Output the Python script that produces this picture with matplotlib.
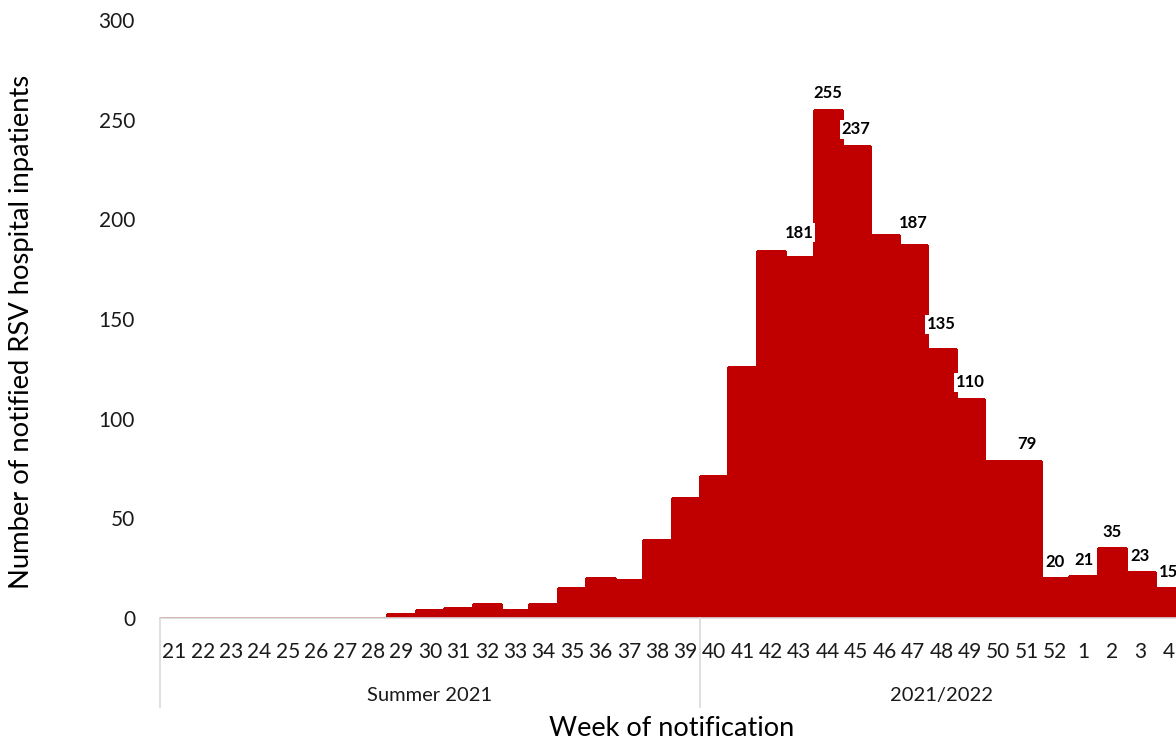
import numpy as np
import matplotlib.pyplot as plt
import matplotlib.transforms as mtransforms

plt.rcParams['font.family'] = ['Lato', 'DejaVu Sans']

# Weekly notified RSV hospital inpatients
weeks = [str(w) for w in range(21, 53)] + ['1', '2', '3', '4']
cases = [0, 0, 0, 0, 0, 0, 0, 0,          # 21-28
         2, 4, 5, 7, 4, 7, 15, 20, 19,    # 29-37
         39, 60, 71, 126, 184, 181, 255,  # 38-44
         237, 192, 187, 135, 110, 79, 79, # 45-51
         20, 21, 35, 23, 15]              # 52, 1-4
# weeks that carry a value label
labelled = ['43', '44', '45', '47', '48', '49', '51', '52', '1', '2', '3', '4']
# a few labels sit a little higher in the original (pt)
label_lift = {'43': 6, '47': 4, '48': 6}

# season grouping below the week ticks
seasons = ['Summer 2021', '2021/2022']
season_first_week = ['21', '40']

bar_color = '#C00000'
grid_grey = '#D9D9D9'
text_col = '#1a1a1a'

fig = plt.figure(figsize=(11.76, 7.42), dpi=100)
ax = fig.add_axes([160/1176, 124/742, 1023/1176, 598/742])

x = np.arange(len(weeks))
# edge in fill colour, no antialiasing: neighbouring bars merge without seams
ax.bar(x, cases, width=1.0, color=bar_color, edgecolor=bar_color, linewidth=1.0,
       antialiased=False)

for i, w in enumerate(weeks):
    if w in labelled:
        ax.annotate(str(cases[i]), (x[i], cases[i]), xytext=(0, 6 + label_lift.get(w, 0)),
                    textcoords='offset points', ha='center', va='bottom',
                    fontsize=12, fontweight='bold', color='black',
                    bbox=dict(boxstyle='square,pad=0.1', fc='white', ec='none'))

ax.set_xlim(-0.5, len(weeks) - 0.5)
ax.set_ylim(0, 300)
ax.set_yticks(range(0, 301, 50))
ax.set_xticks(x)
ax.set_xticklabels(weeks)
ax.tick_params(axis='x', length=0, pad=17, labelsize=15, colors=text_col)
ax.tick_params(axis='y', length=0, pad=18, labelsize=15, colors=text_col)

for side in ['left', 'right', 'top']:
    ax.spines[side].set_visible(False)
ax.spines['bottom'].set_color(grid_grey)
ax.spines['bottom'].set_linewidth(1.2)

# season separators and labels
trans = mtransforms.blended_transform_factory(ax.transData, ax.transAxes)
starts = [weeks.index(w) - 0.5 for w in season_first_week] + [len(weeks) - 0.5]
for sx in starts:
    ax.plot([sx, sx], [0, -0.149], transform=trans, color=grid_grey, lw=1.2, clip_on=False)
for name, a, b in zip(seasons, starts[:-1], starts[1:]):
    ax.text((a + b) / 2, -0.129, name, transform=trans, ha='center', va='center',
            fontsize=14.5, color=text_col)

ax.set_xlabel('Week of notification', fontsize=19.5, color='black')
ax.xaxis.set_label_coords(0.5, -0.184)
ax.set_ylabel('Number of notified RSV hospital inpatients', fontsize=19.7, color='black')
ax.yaxis.set_label_coords(-0.135, 0.478)
ax.xaxis.label.set_va('center')
ax.yaxis.label.set_va('center')

fig.savefig('out.png', dpi=100)
